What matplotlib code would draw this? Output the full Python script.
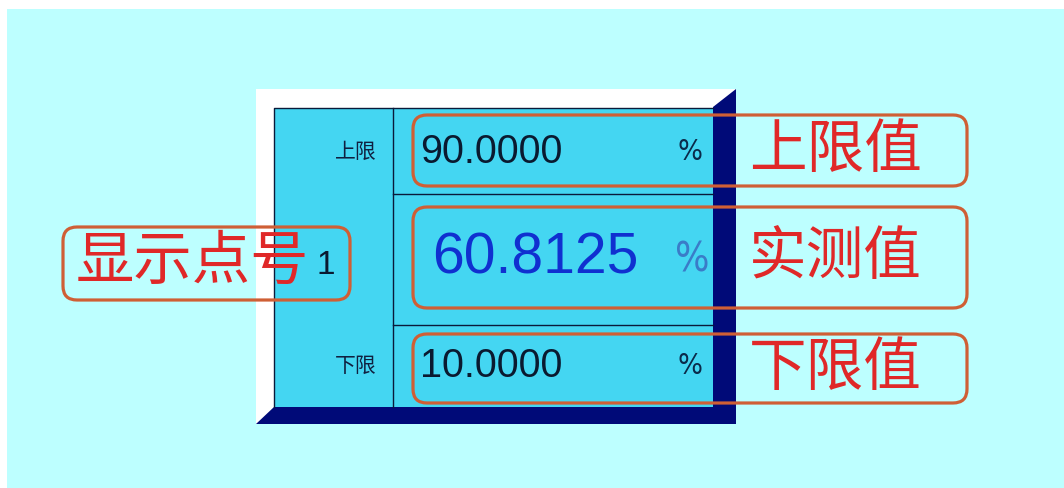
"""
 Панель отображения точки: верхний предел, измеренное значение и нижний предел
 с подписями-выносками
"""

import matplotlib.pyplot as plt
from matplotlib.patches import Rectangle, Polygon, FancyBboxPatch

plt.rcParams['font.family'] = ['Noto Sans CJK SC', 'DejaVu Sans']

# Данные
row_names = ['上限', '', '下限']
values = ['90.0000', '60.8125', '10.0000']
unit = '%'
callouts = ['上限值', '实测值', '下限值']
point_label = '显示点号'
point_no = '1'

# Геометрия (в пикселях картинки)
W, H = 1064, 488
panel = (274, 108, 713, 407)          # левый, верх, правый, низ
col_x = 393
row_edges = [108, 194, 325, 407]
row_text_y = [152, 259, 366]
box_y = [(115, 186), (207, 308), (334, 403)]

fig = plt.figure(figsize=(W / 100, H / 100), dpi=100)
fig.patch.set_facecolor('white')
ax = fig.add_axes([0, 0, 1, 1])
ax.set_xlim(0, W)
ax.set_ylim(H, 0)
ax.axis('off')

# Фон
ax.add_patch(Rectangle((7, 9), W - 7, H - 9, facecolor='#BDFFFF', edgecolor='none', zorder=0))

# Рамка с объёмом
ax.add_patch(Rectangle((256, 89), 736 - 256, 424 - 89, facecolor='white', edgecolor='none', zorder=1))
ax.add_patch(Polygon([(713, 107), (736, 89), (736, 424), (256, 424), (274, 407), (713, 407)],
                     closed=True, facecolor='#000A78', edgecolor='none', zorder=2))
l, t, r, b = panel
ax.add_patch(Rectangle((l, t), r - l, b - t, facecolor='#44D6F2', edgecolor='none', zorder=2))
ax.plot([l, l, r], [b, t, t], color='#0A1A3A', lw=1.0, zorder=3)
ax.plot([col_x, col_x], [t, b], color='#0A1A3A', lw=1.0, zorder=3)
for y in row_edges[1:-1]:
    ax.plot([col_x, r], [y, y], color='#0A1A3A', lw=1.0, zorder=3)

# Ячейки
for i, (name, val) in enumerate(zip(row_names, values)):
    y = row_text_y[i]
    if name:
        ax.text(377, y, name, ha='right', va='center', fontsize=15, color='#102040', zorder=5)
    if i == 1:
        ax.text(432, y, val, ha='left', va='center', fontsize=41, color='#1030D0',
                family='Liberation Sans', zorder=5)
        ax.text(692, y + 1, unit, ha='center', va='center', fontsize=29, color='#3A7CC8',
                family='DejaVu Sans', fontweight='light', fontstretch='condensed', zorder=5)
    else:
        ax.text(420, y, val, ha='left', va='center', fontsize=28.5, color='#0A1A30',
                family='Liberation Sans', zorder=5)
        ax.text(690, y, unit, ha='center', va='center', fontsize=21, color='#0A2A4A',
                family='DejaVu Sans', fontstretch='condensed', zorder=5)

ax.text(326, 265, point_no, ha='center', va='center', fontsize=24, color='#0A1A30',
        family='Liberation Sans', zorder=5)

# Выноски
orange = '#CF5F35'
for (y0, y1), txt in zip(box_y, callouts):
    ax.add_patch(FancyBboxPatch((413, y0), 967 - 413, y1 - y0,
                                boxstyle='round,pad=0,rounding_size=14',
                                facecolor='none', edgecolor=orange, lw=2.3, zorder=6))
    ax.text(749, (y0 + y1) / 2, txt, ha='left', va='center', fontsize=41.5,
            fontweight='light', color='#E02828', zorder=7)

ax.add_patch(FancyBboxPatch((63, 227), 350 - 63, 300 - 227,
                            boxstyle='round,pad=0,rounding_size=14',
                            facecolor='none', edgecolor=orange, lw=2.3, zorder=6))
ax.text(76, 262, point_label, ha='left', va='center', fontsize=42,
        fontweight='light', color='#E02828', zorder=7)

plt.savefig('out.png', dpi=100)
